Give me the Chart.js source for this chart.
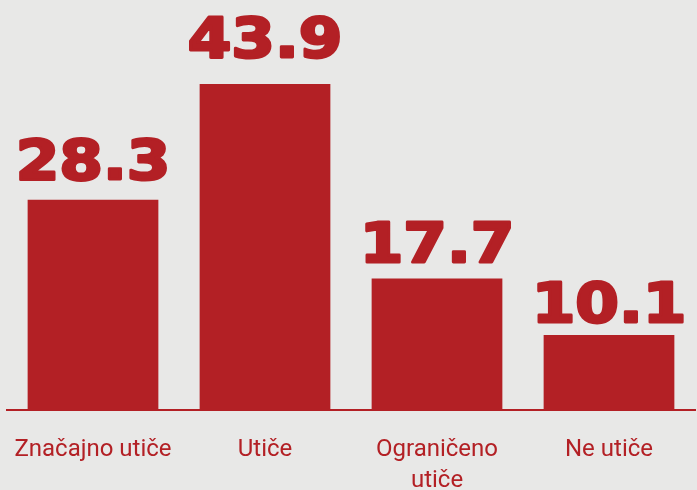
<!DOCTYPE html>
<html>
<head>
<meta charset="utf-8">
<script src="https://cdn.jsdelivr.net/npm/chart.js@4/dist/chart.umd.min.js"></script>
<style>
  html, body { margin: 0; padding: 0; background: #e8e8e7; }
  #wrap { width: 697px; height: 490px; position: relative; }
</style>
</head>
<body>
<div id="wrap"><canvas id="c" width="697" height="490"></canvas></div>
<script>
const categories = ["Značajno utiče", "Utiče", ["Ograničeno", "utiče"], "Ne utiče"];
const values = [28.3, 43.9, 17.7, 10.1];

const RED = "#b32025";

const valueLabels = {
  id: "valueLabels",
  afterDatasetsDraw(chart) {
    const ctx = chart.ctx;
    const meta = chart.getDatasetMeta(0);
    ctx.save();
    ctx.fillStyle = RED;
    ctx.strokeStyle = RED;
    ctx.lineJoin = "round";
    ctx.font = 'bold 56px "DejaVu Sans"';
    ctx.textAlign = "center";
    ctx.textBaseline = "alphabetic";
    meta.data.forEach((bar, i) => {
      const gap = 9 + values[i] * 0.4;
      ctx.save();
      ctx.translate(bar.x, bar.y - gap);
      ctx.scale(1.12, 1);
      ctx.lineWidth = 2.8;
      ctx.fillText(values[i].toFixed(1), 0, 0);
      ctx.strokeText(values[i].toFixed(1), 0, 0);
      ctx.restore();
    });
    ctx.restore();
  }
};

new Chart(document.getElementById("c"), {
  type: "bar",
  data: {
    labels: categories,
    datasets: [{
      data: values,
      backgroundColor: RED,
      borderWidth: 0,
      categoryPercentage: 1,
      barPercentage: 0.76
    }]
  },
  options: {
    responsive: false,
    animation: false,
    layout: { padding: { left: 7, right: 2, top: 0, bottom: 0 } },
    plugins: { legend: { display: false }, tooltip: { enabled: false } },
    scales: {
      x: {
        grid: { display: false, drawTicks: false },
        border: { display: true, color: RED, width: 2 },
        ticks: {
          color: RED,
          padding: 24,
          font: { family: '"Roboto", sans-serif', size: 24, lineHeight: 1.3 },
          maxRotation: 0,
          autoSkip: false
        },
        afterFit(scale) {
          scale.height = 80;
          scale.paddingLeft = 0;
          scale.paddingRight = 0;
        }
      },
      y: {
        display: false,
        min: 0,
        max: 55.2
      }
    }
  },
  plugins: [valueLabels]
});
</script>
</body>
</html>
